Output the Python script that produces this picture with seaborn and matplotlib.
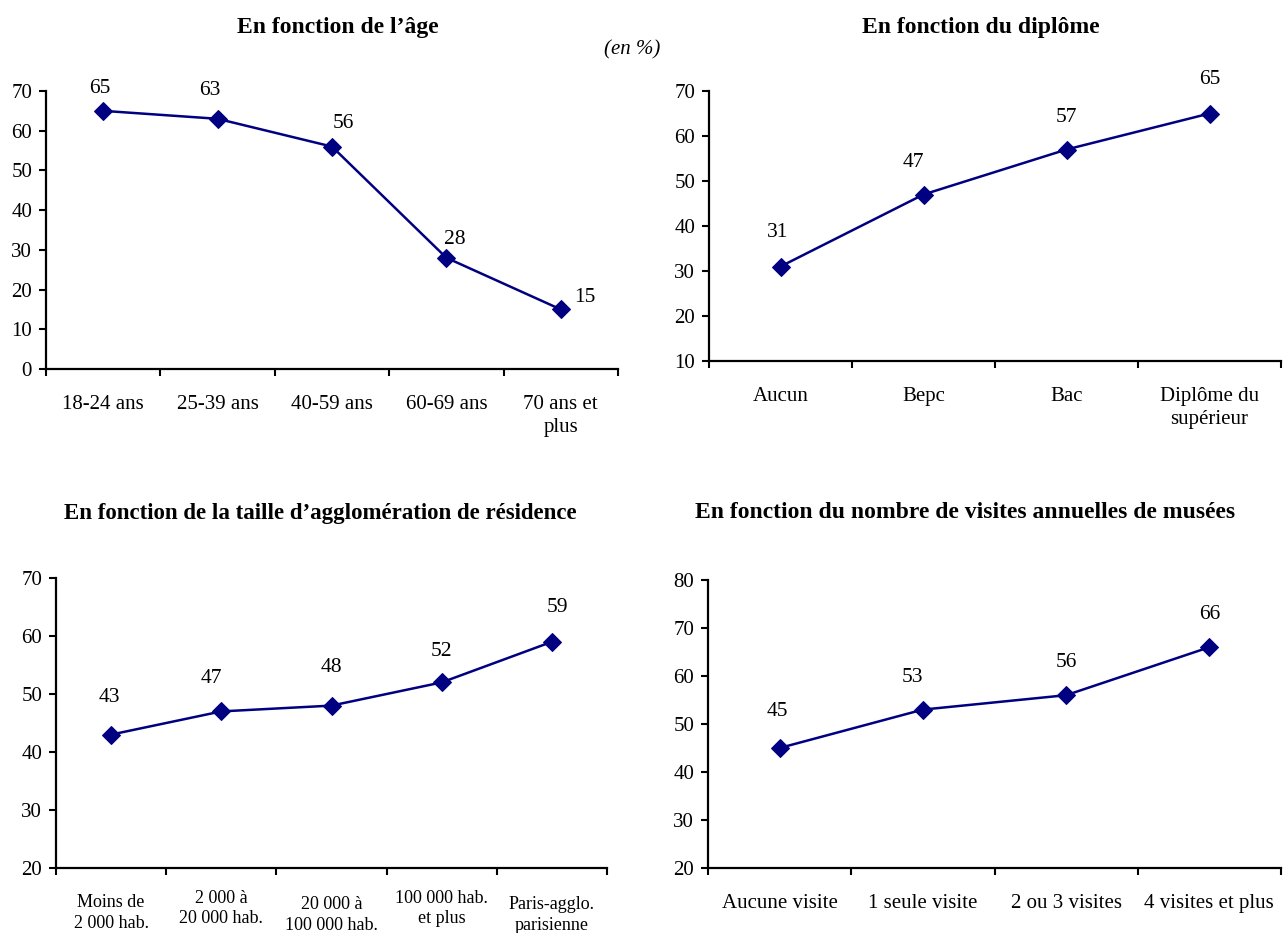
import numpy as np
import matplotlib
matplotlib.use("Agg")
import matplotlib.pyplot as plt
import seaborn as sns

# data
age_labels = ["18-24 ans", "25-39 ans", "40-59 ans", "60-69 ans", "70 ans et\nplus"]
age_values = [65, 63, 56, 28, 15]

dipl_labels = ["Aucun", "Bepc", "Bac", "Diplôme du\nsupérieur"]
dipl_values = [31, 47, 57, 65]

agglo_labels = ["Moins de\n2 000 hab.", "2 000 à\n20 000 hab.", "20 000 à\n100 000 hab.",
                "100 000 hab.\net plus", "Paris-agglo.\nparisienne"]
agglo_values = [43, 47, 48, 52, 59]

musee_labels = ["Aucune visite", "1 seule visite", "2 ou 3 visites", "4 visites et plus"]
musee_values = [45, 53, 56, 66]

sns.set_theme(style="white")
plt.rcParams['font.family'] = ['Liberation Serif', 'DejaVu Serif']
plt.rcParams['text.color'] = 'black'
plt.rcParams['xtick.color'] = 'black'
plt.rcParams['ytick.color'] = 'black'

W, H = 1286, 933
fig = plt.figure(figsize=(W / 100, H / 100), dpi=100)
NAVY = "#000080"


def make_ax(l, r, t, b):
    return fig.add_axes([l / W, (H - b) / H, (r - l) / W, (b - t) / H])


def panel(ax, labels, values, ylim, offs, xfs=15, pads=None, lsp=1.3):
    n = len(values)
    x = np.arange(n)
    sns.lineplot(x=x, y=values, ax=ax, color=NAVY, linewidth=1.8, marker="D",
                 markersize=9, markeredgecolor=NAVY, markerfacecolor=NAVY)
    ax.set_xlim(-0.5, n - 0.5)
    ax.set_ylim(*ylim)
    ax.set_yticks(np.arange(ylim[0], ylim[1] + 1, 10))
    ax.tick_params(axis="y", labelsize=15, length=5, width=1.5, direction="out", left=True,
                   pad=5, labelcolor="black")
    ax.set_xticks(x)
    ax.set_xticklabels(labels, fontsize=xfs, linespacing=lsp, color="black")
    ax.tick_params(axis="x", which="major", length=0, pad=18.5)
    if pads is not None:
        for t, p in zip(ax.xaxis.get_major_ticks(), pads):
            t.set_pad(p)
    ax.set_xticks(np.arange(-0.5, n, 1), minor=True)
    ax.tick_params(axis="x", which="minor", length=5, width=1.5, direction="out", bottom=True)
    for s in ["top", "right"]:
        ax.spines[s].set_visible(False)
    for s in ["left", "bottom"]:
        ax.spines[s].set_color("black")
        ax.spines[s].set_linewidth(1.6)
    ax.grid(False)
    for i, v in enumerate(values):
        dx, dy = offs[i]
        ax.annotate(str(v), (i, v), xytext=(dx, dy), textcoords="offset pixels",
                    ha="center", va="center", fontsize=15.5, color="black")
    ax.set_xlabel("")
    ax.set_ylabel("")


ax1 = make_ax(46, 618, 91, 369)
panel(ax1, age_labels, age_values, (0, 70),
      [(-3, 22), (-8, 28), (11, 23), (8, 18), (24, 12)])
ax2 = make_ax(709, 1281, 91, 361)
panel(ax2, dipl_labels, dipl_values, (10, 70),
      [(-3, 34), (-10, 32), (0, 32), (0, 34)])
ax3 = make_ax(56, 607, 578, 868)
panel(ax3, agglo_labels, agglo_values, (20, 70),
      [(-2, 37), (-10, 33), (0, 38), (0, 31), (6, 34)],
      xfs=13, pads=[18.5, 15.5, 20, 15.5, 20], lsp=1.3)
ax4 = make_ax(708, 1281, 580, 868)
panel(ax4, musee_labels, musee_values, (20, 80),
      [(-2, 36), (-10, 32), (0, 33), (0, 33)])

fig.text(338 / W, 1 - 27 / H, "En fonction de l\u2019âge", ha="center", va="center",
         fontsize=17, fontweight="bold")
fig.text(981 / W, 1 - 27 / H, "En fonction du diplôme", ha="center", va="center",
         fontsize=17, fontweight="bold")
fig.text(320 / W, 1 - 513 / H, "En fonction de la taille d\u2019agglomération de résidence",
         ha="center", va="center", fontsize=16.5, fontweight="bold")
fig.text(965 / W, 1 - 513 / H, "En fonction du nombre de visites annuelles de musées",
         ha="center", va="center", fontsize=17, fontweight="bold")
fig.text(632 / W, 1 - 50 / H, "(en %)", ha="center", va="center", fontsize=15, style="italic")

fig.savefig("out.png", dpi=100, facecolor="white")
